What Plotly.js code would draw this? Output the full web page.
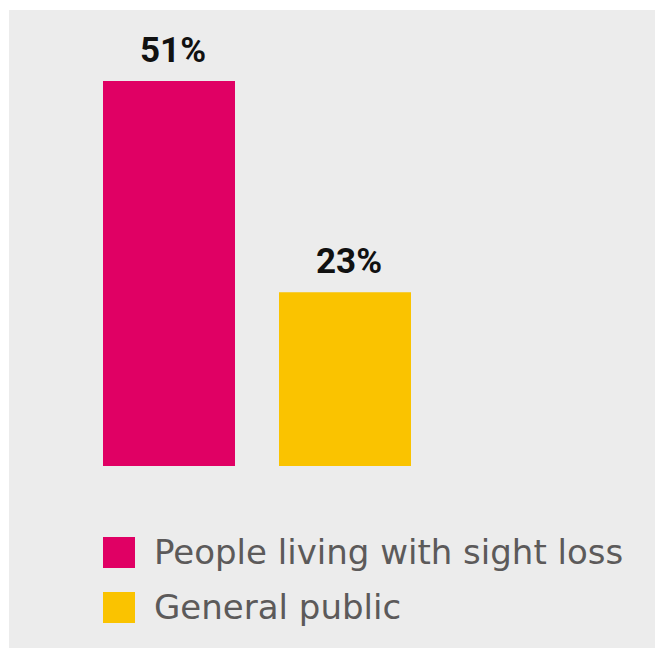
<!DOCTYPE html>
<html>
<head>
<meta charset="utf-8">
<script src="https://cdn.plot.ly/plotly-3.0.1.min.js"></script>
<style>html,body{margin:0;padding:0;background:#fff;}#chart{width:655px;height:648px;}</style>
</head>
<body>
<div id="chart"></div>
<script>
// Data
var categories = ["People living with sight loss", "General public"];
var values = [51, 23];
var valueLabels = ["51%", "23%"];
var colors = ["#e00064", "#fac300"];

// Layout geometry (pixels)
var W = 655, H = 648;
var M = {l: 81, r: 222, t: 13, b: 182};
var plotW = W - M.l - M.r, plotH = H - M.t - M.b;
function px2x(px) { return (px - M.l) / plotW; }
function px2y(py) { return (H - M.b - py) / plotH; }

var trace = {
  type: "bar",
  x: categories,
  y: values,
  marker: {color: colors},
  hoverinfo: "skip",
  showlegend: false
};

var shapes = [{
  type: "rect", xref: "paper", yref: "paper", layer: "below",
  x0: px2x(9), x1: px2x(700), y0: px2y(700), y1: px2y(10),
  fillcolor: "#ececec", line: {width: 0}
}];

var annotations = [];
// value labels above bars
for (var i = 0; i < categories.length; i++) {
  annotations.push({
    xref: "x", yref: "y", x: categories[i], y: values[i],
    text: valueLabels[i], showarrow: false,
    xanchor: "center", yanchor: "bottom", yshift: 8, xshift: 4,
    font: {family: "Roboto, sans-serif", size: 35, color: "#111111", weight: "bold"}
  });
}
// manual legend
var legendTop = [537, 592];
for (var j = 0; j < categories.length; j++) {
  shapes.push({
    type: "rect", xref: "paper", yref: "paper",
    x0: px2x(103), x1: px2x(135), y0: px2y(legendTop[j] + 31), y1: px2y(legendTop[j]),
    fillcolor: colors[j], line: {width: 0}
  });
  annotations.push({
    xref: "paper", yref: "paper", x: px2x(152), y: px2y(legendTop[j] + 15),
    text: categories[j], showarrow: false, xanchor: "left", yanchor: "middle",
    font: {family: "DejaVu Sans, sans-serif", size: 34, color: "#5c5a5a"}
  });
}

var layout = {
  width: W, height: H,
  margin: M,
  paper_bgcolor: "#ffffff",
  plot_bgcolor: "rgba(0,0,0,0)",
  bargap: 0.25,
  xaxis: {type: "category", range: [-0.5, 1.5], showticklabels: false, showgrid: false, zeroline: false, showline: false, fixedrange: true},
  yaxis: {range: [0, 60], showticklabels: false, showgrid: false, zeroline: false, showline: false, fixedrange: true},
  shapes: shapes,
  annotations: annotations,
  showlegend: false
};

Plotly.newPlot("chart", [trace], layout, {displayModeBar: false, staticPlot: true});
</script>
</body>
</html>
